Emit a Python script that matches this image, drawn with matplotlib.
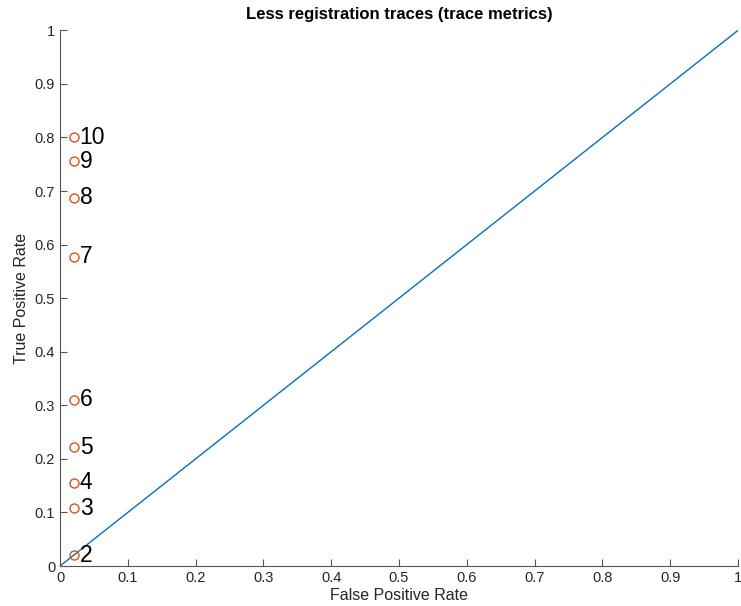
import numpy as np
import matplotlib
matplotlib.use("Agg")
import matplotlib.pyplot as plt

plt.rcParams['font.family'] = ['Liberation Sans', 'DejaVu Sans']

fpr = [0.021, 0.021, 0.021, 0.021, 0.021, 0.021, 0.021, 0.021, 0.021]
tpr = [0.020, 0.108, 0.155, 0.222, 0.310, 0.577, 0.687, 0.756, 0.800]
labels = ['2', '3', '4', '5', '6', '7', '8', '9', '10']
diag = [0, 1]

fig = plt.figure(figsize=(7.41, 6.06), dpi=100)
ax = fig.add_axes([0.081, 0.066, 0.915, 0.884])

ax.plot(diag, diag, color='#0072bd', linewidth=1)
ax.plot(fpr, tpr, 'o', markerfacecolor='none', markeredgecolor='#d95319',
        markersize=6.5, markeredgewidth=1)
for x, y, t in zip(fpr, tpr, labels):
    ax.text(x + 0.008, y, t, fontsize=16.5, va='center', ha='left')

ax.set_xlim(0, 1)
ax.set_ylim(0, 1)
ticks = np.round(np.arange(0, 1.01, 0.1), 1)
ax.set_xticks(ticks)
ax.set_yticks(ticks)
ax.set_xticklabels([('%g' % t) for t in ticks])
ax.set_yticklabels([('%g' % t) for t in ticks])
ax.tick_params(direction='in', length=5, color='#555555', labelsize=10.5, labelcolor='#262626')
for s in ['top', 'right']:
    ax.spines[s].set_visible(False)
for s in ['left', 'bottom']:
    ax.spines[s].set_color('#555555')

ax.set_xlabel('False Positive Rate', fontsize=11.5, color='#262626', labelpad=2)
ax.set_ylabel('True Positive Rate', fontsize=11.5, color='#262626', labelpad=4)
ax.set_title('Less registration traces (trace metrics)', fontsize=12, fontweight='bold', pad=8)

plt.savefig("out.png", dpi=100)
